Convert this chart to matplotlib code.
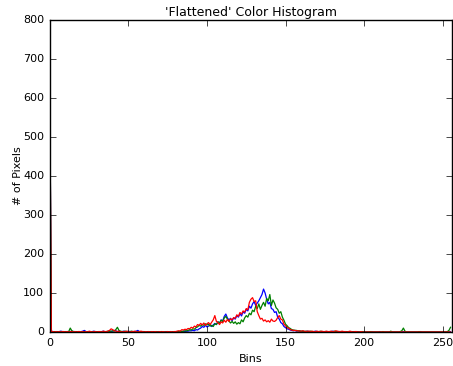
import numpy as np
import matplotlib
matplotlib.use('Agg')
import matplotlib.pyplot as plt

# per-channel pixel counts for bins 0..255
blue = [590,2,1,0,1,0,1,2,1,0,1,0,1,1,2,1,
        1,0,1,0,1,2,4,1,0,1,0,1,2,1,0,1,
        0,1,2,1,0,1,3,1,2,4,3,1,2,0,1,2,
        1,0,2,1,1,0,1,2,4,1,0,1,1,0,1,0,
        1,0,1,0,0,1,0,1,0,0,1,0,0,1,0,1,
        0,1,1,0,1,2,1,2,2,3,3,4,3,6,5,8,
        10,14,12,17,13,15,19,14,18,22,19,26,22,31,28,40,
        46,36,31,35,29,36,33,42,38,47,41,52,48,58,54,66,
        61,72,78,68,74,80,88,96,110,100,84,72,76,60,58,50,
        52,38,33,24,21,14,11,8,7,5,4,3,4,2,3,2,
        1,2,1,1,2,1,1,0,1,2,1,1,0,1,1,0,
        1,1,0,1,2,1,0,1,1,0,1,0,1,0,0,1,
        0,1,0,0,1,0,0,0,1,0,0,0,0,1,0,0,
        0,0,1,0,0,0,0,0,0,1,0,0,0,0,0,0,
        0,1,0,0,0,0,0,0,0,0,0,0,1,0,0,0,
        0,0,0,0,0,0,0,0,0,0,0,0,0,0,0,1]

green = [590,1,0,1,0,1,0,1,0,1,0,1,1,10,3,1,
         0,1,0,1,0,1,1,0,1,0,1,0,1,0,1,0,
         1,0,1,0,1,2,1,2,3,2,6,12,4,2,1,1,
         2,1,0,1,2,1,0,1,1,0,1,0,1,0,0,1,
         0,1,0,0,1,0,0,1,0,0,0,1,0,0,1,0,
         0,1,1,2,1,2,3,3,4,6,5,8,7,11,13,17,
         15,19,17,21,18,20,15,17,14,21,19,26,23,30,27,36,
         40,33,28,23,27,22,26,20,24,21,31,26,36,42,38,48,
         44,56,52,66,60,72,58,68,76,66,86,80,96,68,82,74,
         62,58,48,52,38,30,20,16,11,9,6,5,4,4,3,3,
         2,2,1,2,1,1,2,1,0,1,1,0,2,1,0,1,
         1,0,1,1,0,2,1,0,1,1,0,1,0,1,0,0,
         1,0,0,1,0,0,0,1,0,0,0,0,1,0,0,0,
         0,0,0,0,1,0,0,0,0,2,0,0,0,0,0,1,
         3,10,2,0,0,0,0,0,0,0,0,1,0,0,0,0,
         0,0,0,0,0,0,0,0,0,0,0,0,0,1,4,12]

red = [590,1,1,0,1,0,1,0,1,1,0,1,0,1,1,0,
       1,0,1,1,0,1,0,1,0,2,1,0,1,1,0,1,
       1,0,2,1,1,2,4,8,6,3,2,1,2,1,0,1,
       1,2,1,0,1,1,2,1,0,1,2,1,0,1,0,1,
       0,1,0,1,0,0,1,0,1,0,0,1,0,1,0,1,
       1,2,3,2,6,5,7,6,9,8,12,10,15,13,19,17,
       22,18,23,17,21,24,19,25,31,42,27,24,19,26,23,30,
       25,32,27,34,31,37,35,44,40,50,46,54,51,60,57,76,
       84,88,78,80,52,42,33,35,28,31,26,29,25,33,28,27,
       30,37,42,33,31,20,16,11,10,6,5,4,4,3,3,2,
       2,3,2,1,2,2,1,2,1,1,2,1,1,2,1,1,
       2,1,1,2,1,1,3,2,1,1,2,1,1,0,1,2,
       1,0,1,1,0,0,1,0,0,0,0,0,0,0,0,0,
       0,0,0,0,0,0,0,0,0,0,0,0,0,0,0,0,
       0,0,0,0,0,0,0,0,0,0,0,0,0,0,0,0,
       0,0,0,0,0,0,0,0,0,0,0,0,0,0,0,0]

channels = [('b', blue), ('g', green), ('r', red)]

plt.style.use('classic')
plt.rcParams['font.size'] = 8

fig = plt.figure(figsize=(4.53, 3.66), dpi=100, facecolor='white')
ax = fig.add_axes([0.110, 0.093, 0.888, 0.852])

# one line per channel
for col, hist in channels:
    ax.plot(np.arange(len(hist)), hist, color=col, linewidth=0.9)

ax.set_xlim([0, 256])
ax.set_ylim([0, 800])
ax.set_title("'Flattened' Color Histogram", fontsize=9, pad=3)
ax.set_xlabel('Bins')
ax.set_ylabel('# of Pixels', labelpad=0)

fig.savefig('out.png', dpi=100, facecolor='white')
